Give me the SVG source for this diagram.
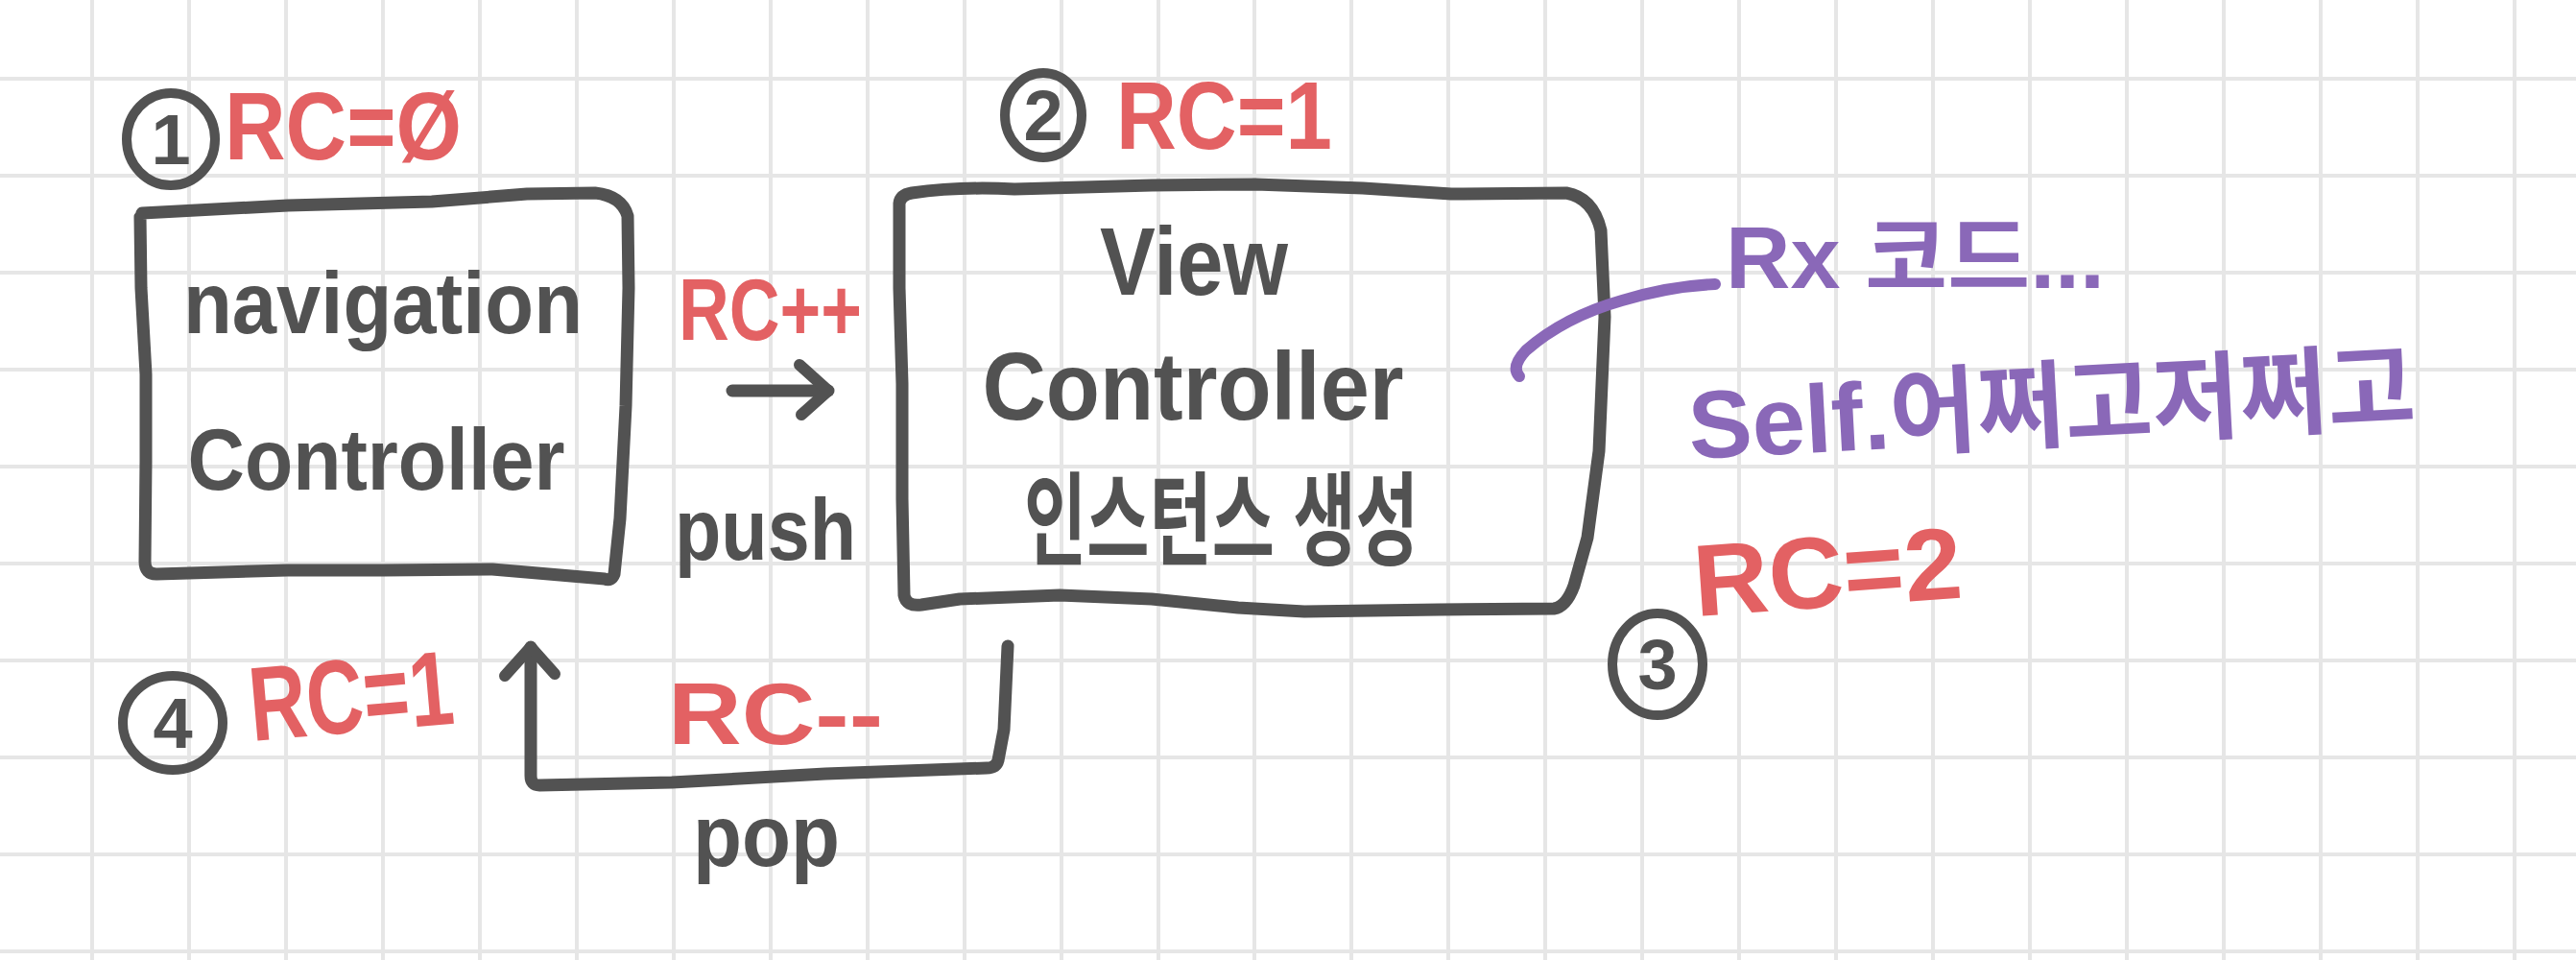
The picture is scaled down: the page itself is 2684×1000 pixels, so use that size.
<svg xmlns="http://www.w3.org/2000/svg" width="2684" height="1000" viewBox="0 0 2684 1000">
<defs>
<style>
.grid{stroke:#e6e6e6;stroke-width:4;fill:none}
.ink{fill:none;stroke:#525252;stroke-width:13;stroke-linecap:round;stroke-linejoin:round}
.ring{fill:none;stroke:#525252;stroke-width:10}
.dk{fill:#525252;font-family:"Liberation Sans","Noto Sans CJK KR",sans-serif;font-weight:700}
.red{fill:#e36163;font-family:"Liberation Sans",sans-serif;font-weight:700}
.pur{fill:#8a68b8;font-family:"Liberation Sans","Noto Sans CJK KR",sans-serif;font-weight:700}
.num{fill:#525252;font-family:"Liberation Sans",sans-serif;font-weight:700;font-size:74px;text-anchor:middle}
</style>
<marker id="chev" viewBox="-45 -40 55 80" refX="0" refY="0" markerWidth="55" markerHeight="80" markerUnits="userSpaceOnUse" orient="auto">
<path d="M-30,-27 L0,0 L-28,25" fill="none" stroke="#525252" stroke-width="12" stroke-linecap="round" stroke-linejoin="round"/>
</marker>
</defs>
<rect width="2684" height="1000" fill="#ffffff"/>
<path class="grid" d="M96,0V1000M197,0V1000M298,0V1000M399,0V1000M500,0V1000M601,0V1000M702,0V1000M803,0V1000M904,0V1000M1005,0V1000M1106,0V1000M1207,0V1000M1307,0V1000M1408,0V1000M1509,0V1000M1610,0V1000M1711,0V1000M1812,0V1000M1913,0V1000M2014,0V1000M2115,0V1000M2216,0V1000M2317,0V1000M2418,0V1000M2519,0V1000M2620,0V1000M0,82H2684M0,183H2684M0,284H2684M0,385H2684M0,486H2684M0,587H2684M0,688H2684M0,789H2684M0,890H2684M0,991H2684"/>

<g id="nav-controller">
<path class="ink" d="M148,222 L300,214 L450,210 L549,202 L620,201 Q648,204 654,225 L655,300 L652,423 L646,540 L640,598 Q637,606 630,603 L560,597 L513,593 L400,594 L299,594 L163,598 Q151,598 151,585 L152,480 L152,390 L147,300 L146,226"/>
<text class="dk" x="399" y="347" font-size="90" text-anchor="middle" textLength="416" lengthAdjust="spacingAndGlyphs">navigation</text>
<text class="dk" x="392" y="510" font-size="90" text-anchor="middle" textLength="393" lengthAdjust="spacingAndGlyphs">Controller</text>
</g>

<g id="view-controller">
<path class="ink" d="M937,212 Q938,203 950,201 Q1000,194 1057,197 L1200,193 L1308,192 L1420,196 L1512,202 L1632,201 Q1660,206 1668,240 L1672,330 L1666,470 L1654,560 L1640,610 Q1632,632 1619,634 L1500,635 L1359,637 L1290,633 L1200,624 L1104,620 L1000,624 L960,630 Q944,632 942,620 L940,520 L940,400 L937,300 Z"/>
<text class="dk" x="1244" y="307" font-size="100" text-anchor="middle" textLength="196" lengthAdjust="spacingAndGlyphs">View</text>
<text class="dk" x="1243" y="437" font-size="100" text-anchor="middle" textLength="439" lengthAdjust="spacingAndGlyphs">Controller</text>
<text class="dk" x="1067" y="0" font-size="92" textLength="411" lengthAdjust="spacingAndGlyphs" transform="translate(0 580) scale(1 1.15)">인스턴스 생성</text>
</g>

<g id="step1">
<ellipse class="ring" cx="178" cy="145" rx="46" ry="48"/>
<text class="num" x="178" y="171">1</text>
<text class="red" x="234" y="166" font-size="100" textLength="247" lengthAdjust="spacingAndGlyphs">RC=Ø</text>
</g>

<g id="step2">
<ellipse class="ring" cx="1087" cy="120" rx="40" ry="44"/>
<text class="num" x="1087" y="146">2</text>
<text class="red" x="1163" y="155" font-size="100" textLength="225" lengthAdjust="spacingAndGlyphs">RC=1</text>
</g>

<g id="step3">
<ellipse class="ring" cx="1727" cy="692" rx="47" ry="53"/>
<text class="num" x="1727" y="718">3</text>
<text class="red" x="1767" y="642" font-size="106" textLength="280" lengthAdjust="spacingAndGlyphs" transform="rotate(-4 1767 642)">RC=2</text>
</g>

<g id="step4">
<ellipse class="ring" cx="180" cy="753" rx="52" ry="49"/>
<text class="num" x="180" y="779">4</text>
<text class="red" x="263" y="772" font-size="110" textLength="213" lengthAdjust="spacingAndGlyphs" transform="rotate(-5 263 772)">RC=1</text>
</g>

<g id="rx-note">
<path d="M1583,392 Q1574,382 1590,365 Q1630,330 1690,313 Q1740,298 1787,296" fill="none" stroke="#8a68b8" stroke-width="12" stroke-linecap="round"/>
<text class="pur" x="1798" y="300" font-size="90" textLength="395" lengthAdjust="spacingAndGlyphs">Rx 코드...</text>
<text class="pur" x="1761" y="478" font-size="100" textLength="758" lengthAdjust="spacingAndGlyphs" transform="rotate(-3 1761 478)">Self.어쩌고저쩌고</text>
</g>

<g id="connectors">
<path class="ink" d="M763,407 L863,407" marker-end="url(#chev)"/>
<path class="ink" d="M1050,673 L1046,760 L1040,792 Q1038,800 1028,800 L860,806 L700,815 L562,818 Q553,818 553,808 L553,674" marker-end="url(#chev)"/>
</g>

<g id="edge-labels">
<text class="red" x="707" y="354" font-size="90" textLength="191" lengthAdjust="spacingAndGlyphs">RC++</text>
<text class="dk" x="703" y="583" font-size="90" textLength="189" lengthAdjust="spacingAndGlyphs">push</text>
<text class="red" x="696" y="775" font-size="90" textLength="224" lengthAdjust="spacingAndGlyphs">RC--</text>
<text class="dk" x="722" y="902" font-size="90" textLength="153" lengthAdjust="spacingAndGlyphs">pop</text>
</g>
</svg>
